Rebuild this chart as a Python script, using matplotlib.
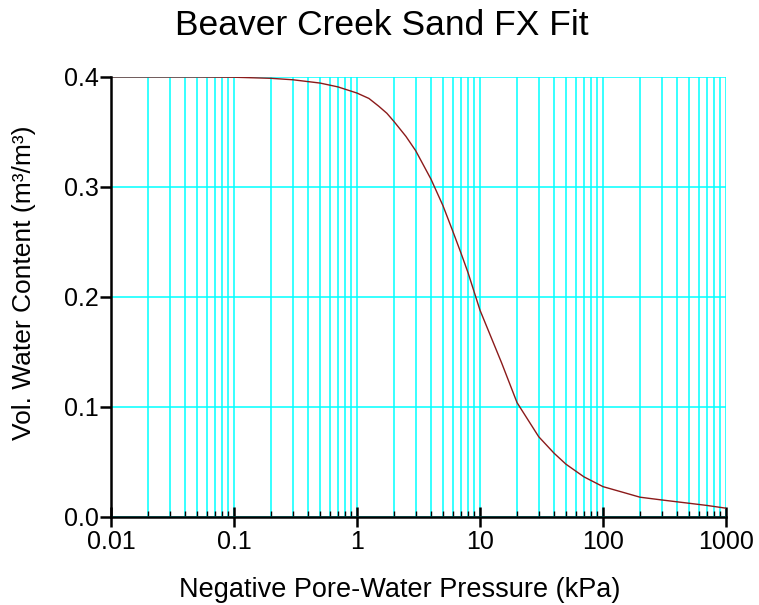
import matplotlib
matplotlib.use("Agg")
import matplotlib.pyplot as plt
from matplotlib.ticker import FixedLocator, LogLocator, NullFormatter

# Dados (kPa, teor volumétrico de água)
pressao = [0.01, 0.02, 0.05, 0.1, 0.2, 0.3, 0.5, 0.7, 1, 1.25, 1.5, 1.75, 2, 2.5,
           3, 4, 5, 6, 7, 8, 9, 10, 15, 20, 30, 40, 50, 70, 100, 150, 200, 300,
           500, 700, 1000]
teor = [0.4, 0.4, 0.4, 0.3998, 0.3988, 0.3975, 0.3945, 0.391, 0.3854, 0.3805,
        0.3735, 0.367, 0.3595, 0.346, 0.333, 0.307, 0.283, 0.260, 0.240, 0.222,
        0.204, 0.188, 0.140, 0.104, 0.073, 0.058, 0.048, 0.0365, 0.0276, 0.022,
        0.018, 0.0155, 0.0125, 0.0105, 0.008]

x_ticks = [0.01, 0.1, 1, 10, 100, 1000]
x_labels = ["0.01", "0.1", "1", "10", "100", "1000"]
y_ticks = [0.0, 0.1, 0.2, 0.3, 0.4]
y_labels = ["0.0", "0.1", "0.2", "0.3", "0.4"]

plt.rcParams["font.family"] = ["Liberation Sans", "DejaVu Sans"]

fig = plt.figure(figsize=(7.59, 6.05), dpi=100)
ax = fig.add_axes([111 / 759, 88 / 605, 615 / 759, 440 / 605])

# Curva
ax.plot(pressao, teor, color="#8B1A1A", lw=1.0, zorder=3)

ax.set_xscale("log")
ax.set_xlim(0.01, 1000)
ax.set_ylim(0, 0.4)

ax.xaxis.set_major_locator(FixedLocator(x_ticks))
ax.set_xticklabels(x_labels)
ax.xaxis.set_minor_locator(LogLocator(base=10, subs=range(2, 10)))
ax.xaxis.set_minor_formatter(NullFormatter())
ax.set_yticks(y_ticks)
ax.set_yticklabels(y_labels)

# Grade ciano
ax.grid(True, which="both", axis="x", color="#00FFFF", lw=1.1, zorder=1)
ax.grid(True, which="major", axis="y", color="#00FFFF", lw=1.1, zorder=1)
ax.set_axisbelow(True)

for lado in ["top", "right"]:
    ax.spines[lado].set_visible(False)
for lado in ["left", "bottom"]:
    ax.spines[lado].set_linewidth(1.8)
    ax.spines[lado].set_zorder(4)

ax.tick_params(axis="x", which="major", direction="inout", length=15, width=1.8,
               labelsize=18, pad=2)
ax.tick_params(axis="x", which="minor", direction="in", length=4, width=1.0)
ax.tick_params(axis="y", which="major", direction="out", length=8, width=1.8,
               labelsize=18, pad=1)

# Títulos
fig.text(382 / 759, 1 - 35 / 605, "Beaver Creek Sand FX Fit", fontsize=25.5,
         ha="center", va="baseline")
fig.text(400 / 759, 1 - 597 / 605, "Negative Pore-Water Pressure (kPa)",
         fontsize=19.5, ha="center", va="baseline")
fig.text(24 / 759, 1 - 283 / 605, "Vol. Water Content (m³/m³)", fontsize=19,
         rotation=90, ha="center", va="center")

fig.savefig("out.png", dpi=100)
